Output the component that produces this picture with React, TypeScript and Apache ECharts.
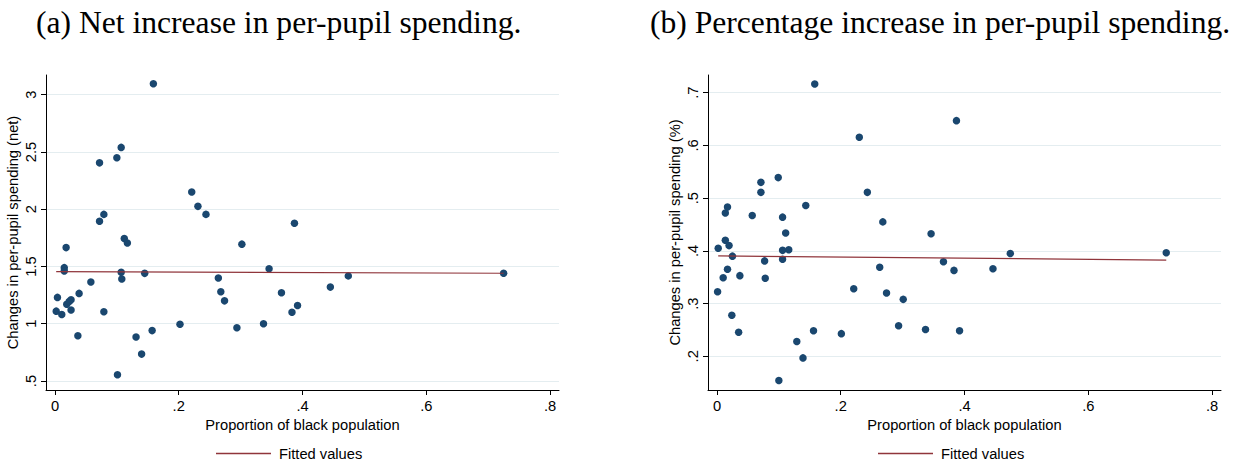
import React, { useEffect, useRef } from "react";
import * as echarts from "echarts";

// Tick values
const xTicks = [0, 0.2, 0.4, 0.6, 0.8];
const yTicksNet = [0.5, 1, 1.5, 2, 2.5, 3];
const yTicksPct = [0.2, 0.3, 0.4, 0.5, 0.6, 0.7];

// Panel (a): net increase
const blackShareNet = [0.002, 0.004, 0.011, 0.015, 0.015, 0.018, 0.019, 0.023, 0.026, 0.026, 0.039, 0.037, 0.058, 0.072, 0.072, 0.079, 0.079, 0.1, 0.107, 0.101, 0.107, 0.108, 0.112, 0.117, 0.131, 0.14, 0.145, 0.157, 0.159, 0.202, 0.221, 0.231, 0.244, 0.264, 0.268, 0.274, 0.294, 0.302, 0.337, 0.346, 0.366, 0.387, 0.383, 0.392, 0.445, 0.474, 0.725];
const spendingNet = [1.11, 1.23, 1.08, 1.49, 1.46, 1.665, 1.17, 1.195, 1.21, 1.12, 1.265, 0.895, 1.365, 2.405, 1.895, 1.955, 1.105, 2.45, 2.54, 0.555, 1.45, 1.39, 1.745, 1.705, 0.885, 0.735, 1.44, 0.94, 3.095, 0.995, 2.15, 2.025, 1.955, 1.4, 1.28, 1.2, 0.965, 1.695, 1.0, 1.48, 1.27, 1.878, 1.1, 1.16, 1.32, 1.418, 1.441];
const fittedNetX = [0.002, 0.725];
const fittedNetY = [1.455, 1.441];

// Panel (b): percentage increase
const blackSharePct = [0.001, 0.002, 0.01, 0.0135, 0.017, 0.0135, 0.0195, 0.017, 0.025, 0.024, 0.037, 0.035, 0.057, 0.071, 0.071, 0.077, 0.078, 0.099, 0.106, 0.111, 0.106, 0.116, 0.106, 0.1, 0.129, 0.139, 0.1435, 0.156, 0.158, 0.201, 0.221, 0.23, 0.243, 0.263, 0.268, 0.274, 0.2935, 0.301, 0.337, 0.346, 0.366, 0.383, 0.387, 0.392, 0.446, 0.474, 0.726];
const spendingPct = [0.3225, 0.405, 0.349, 0.472, 0.483, 0.42, 0.41, 0.365, 0.39, 0.278, 0.353, 0.2455, 0.467, 0.53, 0.511, 0.381, 0.348, 0.539, 0.464, 0.434, 0.401, 0.402, 0.384, 0.154, 0.228, 0.197, 0.486, 0.2485, 0.7165, 0.243, 0.328, 0.6155, 0.511, 0.369, 0.455, 0.32, 0.258, 0.308, 0.251, 0.4325, 0.3795, 0.363, 0.647, 0.2485, 0.366, 0.395, 0.3965];
const fittedPctX = [0.002, 0.726];
const fittedPctY = [0.3905, 0.3825];

const titles = ["(a) Net increase in per-pupil spending.", "(b) Percentage increase in per-pupil spending."];
const xTitle = "Proportion of black population";
const yTitles = ["Changes in per-pupil spending (net)", "Changes in per-pupil spending (%)"];
const fitName = "Fitted values";

const NAVY = "#1a476f";
const MAROON = "#90353b";
const SANS = "Liberation Sans, Arial, sans-serif";
const FS = 14.7;

const fmt = (v: number) => {
  const s = String(Math.round(v * 1000) / 1000);
  return s.replace(/^0\./, ".");
};

const zip = (a: number[], b: number[]) => a.map((v, i) => [v, b[i]]);

function makeX(gridIndex: number) {
  return {
    type: "value",
    gridIndex,
    min: -0.0145,
    max: 0.8145,
    name: xTitle,
    nameLocation: "middle",
    nameGap: 19,
    nameTextStyle: { fontFamily: SANS, fontSize: FS, color: "#000" },
    axisLine: { show: true, onZero: false, lineStyle: { color: "#000", width: 1 } },
    axisTick: { show: true, length: 5, customValues: xTicks, lineStyle: { color: "#000" } },
    axisLabel: { customValues: xTicks, formatter: fmt, fontFamily: SANS, fontSize: FS, color: "#000", margin: 8 },
    splitLine: { show: false },
  };
}

function makeY(gridIndex: number, min: number, max: number, ticks: number[], name: string) {
  return {
    type: "value",
    gridIndex,
    min,
    max,
    name,
    nameLocation: "middle",
    nameGap: 26,
    nameTextStyle: { fontFamily: SANS, fontSize: FS, color: "#000" },
    axisLine: { show: true, onZero: false, lineStyle: { color: "#000", width: 1 } },
    axisTick: { show: true, length: 5, customValues: ticks, lineStyle: { color: "#000" } },
    axisLabel: { customValues: ticks, formatter: fmt, rotate: 90, fontFamily: SANS, fontSize: FS, color: "#000", margin: 8 },
    splitLine: { show: true, lineStyle: { color: "#e4edf0", width: 1 } },
  };
}

function makeLegend(left: number) {
  return {
    data: [{ name: fitName, icon: "rect" }],
    left,
    top: 446,
    padding: 0,
    itemWidth: 55,
    itemHeight: 1.3,
    textStyle: { fontFamily: SANS, fontSize: FS, color: "#000", padding: [0, 0, 0, 3] },
  };
}

export default function App() {
  const ref = useRef<HTMLDivElement>(null);
  useEffect(() => {
    if (!ref.current) return;
    const chart = echarts.init(ref.current, undefined, { renderer: "svg" });
    const titleStyle = { fontFamily: "Liberation Serif, serif", fontSize: 31.6, fontWeight: "normal", color: "#000" };
    chart.setOption({
      animation: false,
      backgroundColor: "#fff",
      title: [
        { text: titles[0], left: 31, top: 1, textStyle: titleStyle },
        { text: titles[1], left: 645, top: 1, textStyle: titleStyle },
      ],
      legend: [makeLegend(216), makeLegend(878)],
      grid: [
        { left: 46, top: 75, width: 513, height: 315, containLabel: false },
        { left: 708, top: 75, width: 513, height: 315, containLabel: false },
      ],
      xAxis: [makeX(0), makeX(1)],
      yAxis: [
        makeY(0, 0.4215, 3.172, yTicksNet, yTitles[0]),
        makeY(1, 0.1361, 0.7336, yTicksPct, yTitles[1]),
      ],
      series: [
        { type: "scatter", name: "net", xAxisIndex: 0, yAxisIndex: 0, data: zip(blackShareNet, spendingNet), symbolSize: 7.5, itemStyle: { color: NAVY, opacity: 1 } },
        { type: "line", name: fitName, xAxisIndex: 0, yAxisIndex: 0, data: zip(fittedNetX, fittedNetY), symbol: "none", lineStyle: { color: MAROON, width: 1.2 }, itemStyle: { color: MAROON } },
        { type: "scatter", name: "pct", xAxisIndex: 1, yAxisIndex: 1, data: zip(blackSharePct, spendingPct), symbolSize: 7.5, itemStyle: { color: NAVY, opacity: 1 } },
        { type: "line", name: fitName, xAxisIndex: 1, yAxisIndex: 1, data: zip(fittedPctX, fittedPctY), symbol: "none", lineStyle: { color: MAROON, width: 1.2 }, itemStyle: { color: MAROON } },
      ],
    });
    return () => chart.dispose();
  }, []);
  return <div ref={ref} style={{ position: "absolute", left: 0, top: 0, width: 1236, height: 461 }} />;
}
